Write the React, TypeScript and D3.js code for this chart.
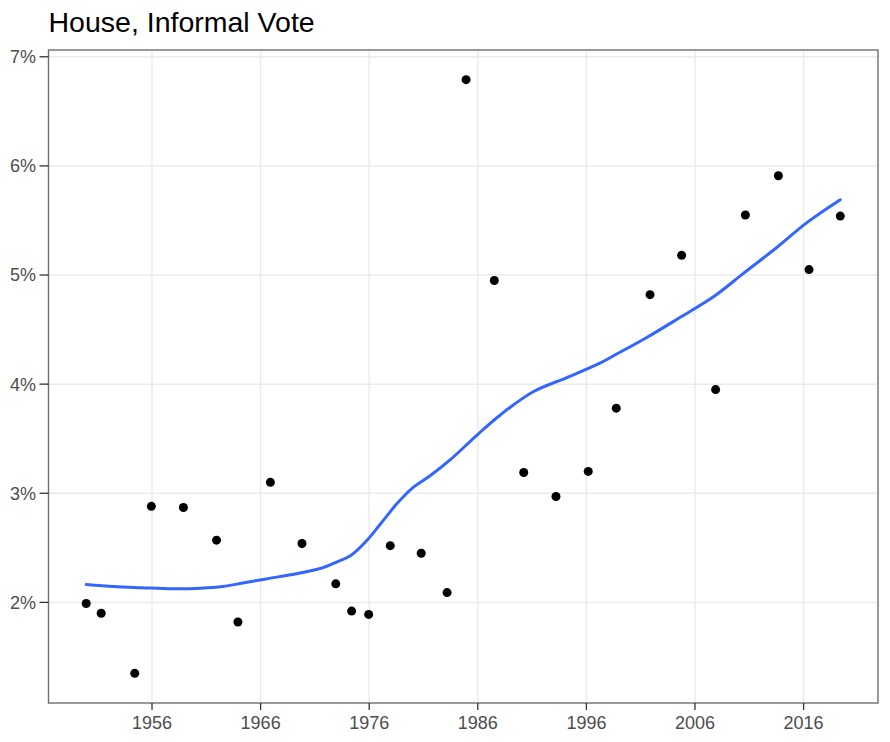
import * as d3 from 'd3';

// election dates as decimal years, House informal vote (%)
const ELECTION_DATES = [
  1949.94, 1951.32, 1954.41, 1955.94, 1958.89, 1961.94, 1963.91, 1966.9,
  1969.81, 1972.92, 1974.38, 1975.95, 1977.94, 1980.79, 1983.17, 1984.92,
  1987.52, 1990.23, 1993.2, 1996.17, 1998.75, 2001.86, 2004.77, 2007.9,
  2010.64, 2013.68, 2016.5, 2019.38,
];
const INFORMAL_PCT = [
  1.99, 1.9, 1.35, 2.88, 2.87, 2.57, 1.82, 3.1,
  2.54, 2.17, 1.92, 1.89, 2.52, 2.45, 2.09, 6.79,
  4.95, 3.19, 2.97, 3.2, 3.78, 4.82, 5.18, 3.95,
  5.55, 5.91, 5.05, 5.54,
];

// loess trend
const SMOOTH_DATES = [
  1949.94, 1952.5, 1955, 1958, 1960.5, 1962.5, 1964.5, 1966.5, 1969.4, 1971.5,
  1973, 1974.3, 1975.8, 1977.05, 1978.6, 1980, 1981.6, 1983.5, 1986, 1988.1,
  1991.1, 1994.2, 1997.2, 1998.5, 2001.6, 2004.6, 2007.7, 2010.4, 2013.5,
  2016.3, 2019.38,
];
const SMOOTH_PCT = [
  2.165, 2.145, 2.135, 2.125, 2.13, 2.145, 2.18, 2.215, 2.265, 2.31,
  2.37, 2.43, 2.57, 2.72, 2.91, 3.05, 3.16, 3.31, 3.54, 3.72,
  3.93, 4.06, 4.19, 4.26, 4.43, 4.61, 4.8, 5.01, 5.25,
  5.48, 5.69,
];

const X_TICKS = [1956, 1966, 1976, 1986, 1996, 2006, 2016];
const Y_TICKS = [2, 3, 4, 5, 6, 7];

const TITLE = 'House, Informal Vote';

const WIDTH = 890;
const HEIGHT = 742;
const MARGIN = { top: 50, right: 12, bottom: 39, left: 48.5 };
const FONT = '"Liberation Sans", Arial, Helvetica, sans-serif';

function expand([lo, hi]: [number, number]): [number, number] {
  const pad = (hi - lo) * 0.05;
  return [lo - pad, hi + pad];
}

export default function App() {
  const innerW = WIDTH - MARGIN.left - MARGIN.right;
  const innerH = HEIGHT - MARGIN.top - MARGIN.bottom;

  const x = d3.scaleLinear()
    .domain(expand(d3.extent(ELECTION_DATES) as [number, number]))
    .range([0, innerW]);
  const y = d3.scaleLinear()
    .domain(expand(d3.extent(INFORMAL_PCT) as [number, number]))
    .range([innerH, 0]);

  const line = d3.line<number>()
    .x((_, i) => x(SMOOTH_DATES[i]))
    .y(d => y(d))
    .curve(d3.curveCatmullRom.alpha(0.5));

  return (
    <div style={{ position: 'absolute', left: 0, top: 0 }}>
      <svg width={WIDTH} height={HEIGHT} style={{ fontFamily: FONT, background: 'white', display: 'block' }}>
        <text x={MARGIN.left} y={32} fontSize={28.5} fill="#000">{TITLE}</text>

        <g transform={`translate(${MARGIN.left},${MARGIN.top})`}>
          {/* grid */}
          {Y_TICKS.map(t => (
            <line key={`gy${t}`} x1={0} x2={innerW} y1={y(t)} y2={y(t)} stroke="#ebebeb" strokeWidth={1.5} />
          ))}
          {X_TICKS.map(t => (
            <line key={`gx${t}`} x1={x(t)} x2={x(t)} y1={0} y2={innerH} stroke="#ebebeb" strokeWidth={1.5} />
          ))}

          {/* trend */}
          <path d={line(SMOOTH_PCT) ?? ''} fill="none" stroke="#3366ff" strokeWidth={3} strokeLinecap="round" />

          {/* points */}
          {INFORMAL_PCT.map((v, i) => (
            <circle key={i} cx={x(ELECTION_DATES[i])} cy={y(v)} r={4.5} fill="#000" />
          ))}

          <rect x={0} y={0} width={innerW} height={innerH} fill="none" stroke="#6e6e6e" strokeWidth={1.4} />

          {/* y axis */}
          {Y_TICKS.map(t => (
            <g key={`ty${t}`} transform={`translate(0,${y(t)})`}>
              <line x1={-9} x2={0} stroke="#333" strokeWidth={1.3} />
              <text x={-12.5} dy="0.36em" textAnchor="end" fontSize={18} fill="#4d4d4d">{t}%</text>
            </g>
          ))}

          {/* x axis */}
          {X_TICKS.map(t => (
            <g key={`tx${t}`} transform={`translate(${x(t)},${innerH})`}>
              <line y1={0} y2={7} stroke="#333" strokeWidth={1.3} />
              <text y={25.5} textAnchor="middle" fontSize={18} fill="#4d4d4d">{t}</text>
            </g>
          ))}
        </g>
      </svg>
    </div>
  );
}
